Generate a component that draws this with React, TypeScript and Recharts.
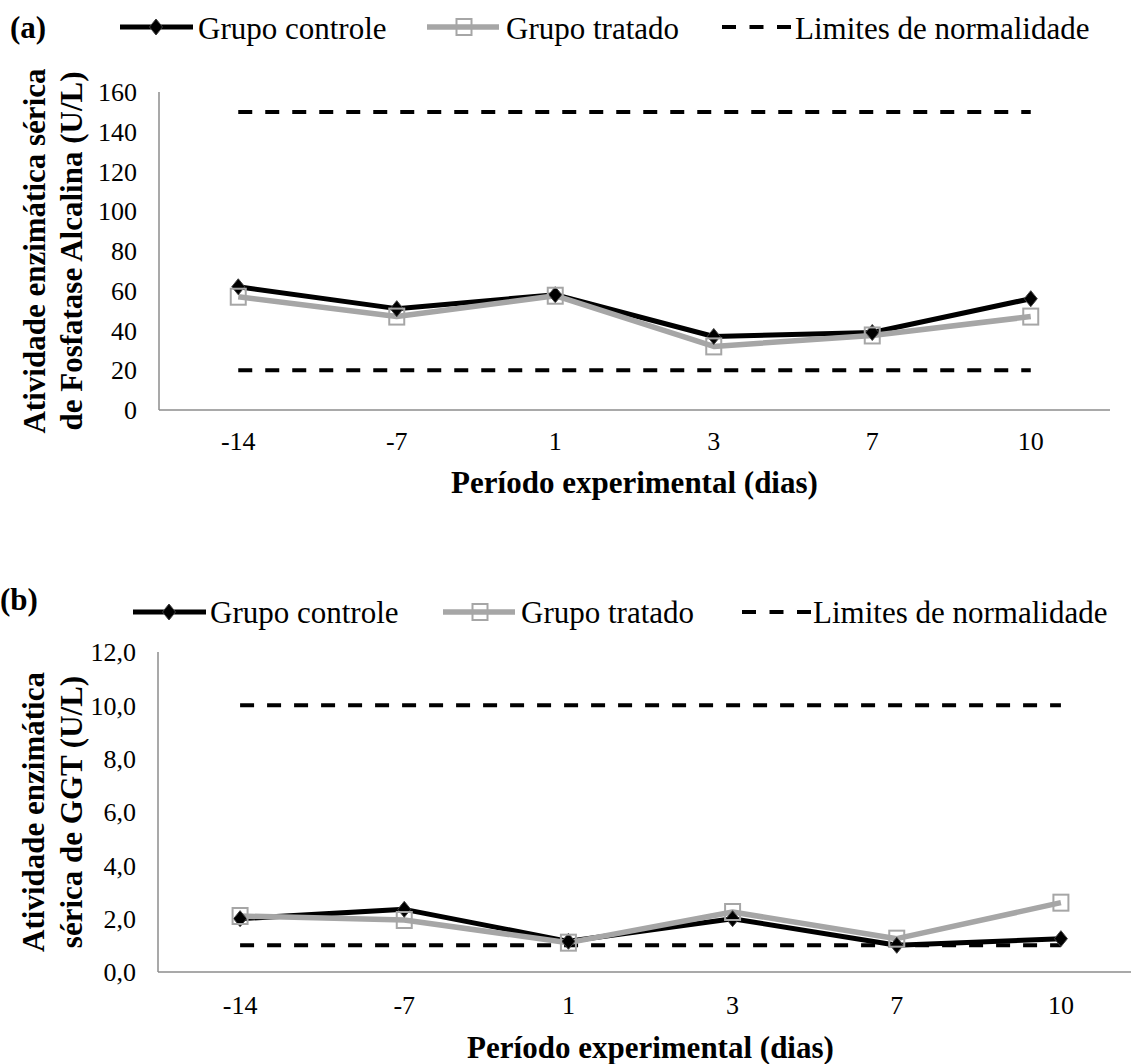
import { LineChart, Line, XAxis, YAxis, Legend, Label } from 'recharts';

const FONT = '"Liberation Serif", "Times New Roman", serif';
const GRAY = '#a6a6a6';
const AXIS = '#8c8c8c';

const dias = ['-14', '-7', '1', '3', '7', '10'];

// (a) Fosfatase Alcalina
const fosfControle = [62, 51, 58, 37, 39, 56];
const fosfTratado = [57, 47, 57.5, 32, 37.5, 47];
const fosfLimiteSup = [150, 150, 150, 150, 150, 150];
const fosfLimiteInf = [20, 20, 20, 20, 20, 20];
const fosfTicks = [0, 20, 40, 60, 80, 100, 120, 140, 160];

// (b) GGT
const ggtControle = [2.0, 2.35, 1.15, 2.0, 1.0, 1.25];
const ggtTratado = [2.1, 1.95, 1.1, 2.25, 1.25, 2.6];
const ggtLimiteSup = [10, 10, 10, 10, 10, 10];
const ggtLimiteInf = [1, 1, 1, 1, 1, 1];
const ggtTicks = [0, 2, 4, 6, 8, 10, 12];

const rows = (controle: number[], tratado: number[], sup: number[], inf: number[]) =>
  dias.map((dia, i) => ({ dia, controle: controle[i], tratado: tratado[i], sup: sup[i], inf: inf[i] }));

const fosfData = rows(fosfControle, fosfTratado, fosfLimiteSup, fosfLimiteInf);
const ggtData = rows(ggtControle, ggtTratado, ggtLimiteSup, ggtLimiteInf);

function Diamond(props: any) {
  const { cx, cy, key } = props;
  if (cx == null || cy == null) return <g key={key} />;
  return (
    <path
      key={key}
      d={`M${cx},${cy - 8} L${cx + 6.5},${cy} L${cx},${cy + 8} L${cx - 6.5},${cy} Z`}
      fill="#000"
      stroke="#404040"
      strokeWidth={1}
    />
  );
}

function Square(props: any) {
  const { cx, cy, key } = props;
  if (cx == null || cy == null) return <g key={key} />;
  return <rect key={key} x={cx - 7.5} y={cy - 8} width={15} height={16} fill="none" stroke={GRAY} strokeWidth={2} />;
}

interface LegendPos {
  panel: string;
  panelX: number;
  panelY: number;
  lineY: number;
  textY: number;
  items: number[]; // symbol start x for each of the 3 items
  texts: number[];
}

function Legenda({ panel, panelX, panelY, lineY, textY, items, texts }: LegendPos) {
  const [c, t, l] = items;
  return (
    <svg width={1131} height={80} style={{ display: 'block' }}>
      <text x={panelX} y={panelY} fontFamily={FONT} fontWeight="bold" fontSize={31}>{panel}</text>
      <line x1={c} x2={c + 73} y1={lineY} y2={lineY} stroke="#000" strokeWidth={5} />
      <Diamond cx={c + 36} cy={lineY} />
      <text x={texts[0]} y={textY} fontFamily={FONT} fontSize={31}>Grupo controle</text>
      <line x1={t} x2={t + 72} y1={lineY} y2={lineY} stroke={GRAY} strokeWidth={5.5} />
      <Square cx={t + 37} cy={lineY} />
      <text x={texts[1]} y={textY} fontFamily={FONT} fontSize={31}>Grupo tratado</text>
      <line x1={l} x2={l + 69} y1={lineY} y2={lineY} stroke="#000" strokeWidth={4} strokeDasharray="14 13.5" />
      <text x={texts[2]} y={textY} fontFamily={FONT} fontSize={31}>Limites de normalidade</text>
    </svg>
  );
}

function TituloY({ viewBox, linhas, baselines }: any) {
  const cy = viewBox.y + viewBox.height / 2;
  return (
    <text transform={`translate(0,${cy}) rotate(-90)`} textAnchor="middle" fontFamily={FONT} fontWeight="bold" fontSize={31} fill="#000">
      <tspan x={0} y={baselines[0]}>{linhas[0]}</tspan>
      <tspan x={0} y={baselines[1]}>{linhas[1]}</tspan>
    </text>
  );
}

const fmtGgt = (v: number) => v.toFixed(1).replace('.', ',');

interface PainelProps {
  data: any[];
  width: number;
  height: number;
  plotLeft: number;
  plotRight: number;
  bottom: number;
  ticks: number[];
  domain: [number, number];
  fmt?: (v: number) => string;
  tickGap: number;
  titleOffset: number;
  yLinhas: string[];
  yBaselines: number[];
  legend: LegendPos;
}

function Painel(p: PainelProps) {
  const plotW = p.plotRight - p.plotLeft;
  const pad = plotW / 12;
  return (
    <LineChart
      width={p.width}
      height={p.height}
      data={p.data}
      margin={{ top: 92, right: p.width - p.plotRight, left: 0, bottom: p.bottom }}
    >
      <Legend
        verticalAlign="middle"
        wrapperStyle={{ top: 0, left: 0, width: 1131, height: 80 }}
        content={() => <Legenda {...p.legend} />}
      />
      <XAxis
        dataKey="dia"
        height={90}
        padding={{ left: pad, right: pad }}
        tickLine={false}
        tickSize={6}
        tickMargin={p.tickGap}
        axisLine={{ stroke: AXIS, strokeWidth: 1.5 }}
        tick={{ fill: '#000', fontSize: 26, fontFamily: FONT }}
      >
        <Label
          value="Período experimental (dias)"
          position="insideBottom"
          offset={p.titleOffset}
          fontFamily={FONT}
          fontWeight="bold"
          fontSize={31}
          fill="#000"
        />
      </XAxis>
      <YAxis
        width={p.plotLeft}
        domain={p.domain}
        ticks={p.ticks}
        interval={0}
        tickFormatter={p.fmt}
        tickLine={false}
        tickSize={6}
        tickMargin={16}
        axisLine={{ stroke: AXIS, strokeWidth: 1.5 }}
        tick={{ fill: '#000', fontSize: 26, fontFamily: FONT }}
      >
        <Label content={(lp: any) => <TituloY viewBox={lp.viewBox} linhas={p.yLinhas} baselines={p.yBaselines} />} />
      </YAxis>
      <Line dataKey="sup" stroke="#000" strokeWidth={4} strokeDasharray="14 13" dot={false} activeDot={false} legendType="none" isAnimationActive={false} />
      <Line dataKey="inf" stroke="#000" strokeWidth={4} strokeDasharray="14 13" dot={false} activeDot={false} legendType="none" isAnimationActive={false} />
      <Line dataKey="controle" stroke="#000" strokeWidth={5} strokeLinejoin="round" dot={Diamond} activeDot={false} isAnimationActive={false} />
      <Line dataKey="tratado" stroke={GRAY} strokeWidth={5.5} strokeLinejoin="round" dot={Square} activeDot={false} isAnimationActive={false} />
    </LineChart>
  );
}

export default function App() {
  return (
    <div style={{ position: 'absolute', left: 0, top: 0, width: 1131, height: 1064, overflow: 'hidden', background: '#fff' }}>
      <div style={{ position: 'absolute', left: 0, top: 0 }}>
        <Painel
          data={fosfData}
          width={1131}
          height={530}
          plotLeft={159}
          plotRight={1110}
          bottom={30}
          ticks={fosfTicks}
          domain={[0, 160]}
          tickGap={16}
          titleOffset={7}
          yLinhas={['Atividade enzimática sérica', 'de Fosfatase Alcalina (U/L)']}
          yBaselines={[45, 82]}
          legend={{ panel: '(a)', panelX: 10, panelY: 38, lineY: 27, textY: 39, items: [120, 427, 722], texts: [198, 506, 795] }}
        />
      </div>
      <div style={{ position: 'absolute', left: 0, top: 560 }}>
        <Painel
          data={ggtData}
          width={1145}
          height={504}
          plotLeft={158}
          plotRight={1143}
          bottom={2}
          ticks={ggtTicks}
          domain={[0, 12]}
          fmt={fmtGgt}
          tickGap={18}
          titleOffset={4}
          yLinhas={['Atividade enzimática', 'sérica de GGT (U/L)']}
          yBaselines={[44, 82]}
          legend={{ panel: '(b)', panelX: 0, panelY: 50, lineY: 52, textY: 63, items: [133, 443, 742], texts: [210, 521, 813] }}
        />
      </div>
    </div>
  );
}
